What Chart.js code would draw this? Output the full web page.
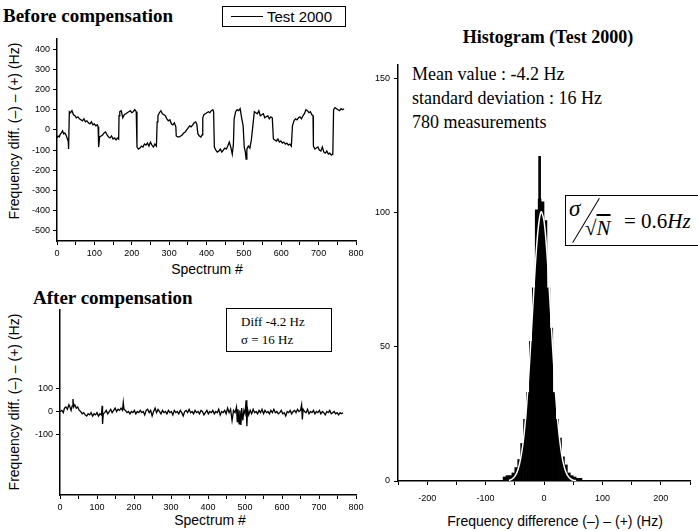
<!DOCTYPE html>
<html>
<head>
<meta charset="utf-8">
<script src="https://cdn.jsdelivr.net/npm/chart.js@4.4.1/dist/chart.umd.min.js"></script>
<style>
  body { margin: 0; width: 698px; height: 531px; background: #fff; position: relative; overflow: hidden;
         font-family: "Liberation Sans", Arial, sans-serif; color: #000; }
  canvas { position: absolute; }
  .abs { position: absolute; white-space: nowrap; line-height: 1; }
  .serif { font-family: "Liberation Serif", "Times New Roman", serif; }
  .ttl { font-weight: bold; font-size: 19px; }
  .ylab { font-size: 14px; transform: translate(-50%, -50%) rotate(-90deg); }
  .xlab { font-size: 14px; transform: translateX(-50%); }
  .box { position: absolute; border: 1px solid #000; background: #fff; }
</style>
</head>
<body>

<div class="abs serif ttl" style="left:3px; top:6px;">Before compensation</div>
<div class="box" style="left:222px; top:6px; width:122px; height:19px;">
  <div class="abs" style="left:8px; top:9px; width:32px; border-top:1.5px solid #000;"></div>
  <div class="abs" style="left:44px; top:2px; font-size:15px;">Test 2000</div>
</div>
<div class="abs ylab" style="left:14px; top:131px;">Frequency diff. (–) – (+) (Hz)</div>
<div class="abs xlab" style="left:207px; top:262px;">Spectrum #</div>
<canvas id="before" width="351" height="233" style="left:17px; top:29px;"></canvas>

<div class="abs serif ttl" style="left:33px; top:288px;">After compensation</div>
<div class="box" style="left:226px; top:308px; width:104px; height:42px;">
  <div class="abs serif" style="left:14px; top:6px; font-size:13px;">Diff -4.2 Hz</div>
  <div class="abs serif" style="left:14px; top:24px; font-size:13px;">σ = 16 Hz</div>
</div>
<div class="abs ylab" style="left:14px; top:402px;">Frequency diff. (–) – (+) (Hz)</div>
<div class="abs xlab" style="left:210px; top:513px;">Spectrum #</div>
<canvas id="after" width="350" height="216" style="left:20px; top:300px;"></canvas>

<div class="abs serif ttl" style="left:548px; top:28px; transform:translateX(-50%); font-size:18px;">Histogram (Test 2000)</div>
<div class="abs serif" style="left:412px; top:65px; font-size:18px;">Mean value : -4.2 Hz</div>
<div class="abs serif" style="left:412px; top:89px; font-size:18px;">standard deviation : 16 Hz</div>
<div class="abs serif" style="left:412px; top:113px; font-size:18px;">780 measurements</div>
<div class="abs xlab" style="left:555px; top:514px;">Frequency difference (–) – (+) (Hz)</div>
<canvas id="hist" width="332" height="451" style="left:366px; top:55px;"></canvas>
<div class="box" style="left:565px; top:195px; width:140px; height:49px;">
  <div class="abs serif" style="left:3px; top:1px; font-size:23px; font-style:italic;">σ</div>
  <div class="abs" style="left:-6px; top:24px; width:52px; border-top:1.3px solid #000; transform:rotate(-59deg);"></div>
  <div class="abs serif" style="left:19px; top:22px; font-size:21px;">√<span style="font-style:italic; text-decoration:overline;">N</span></div>
  <div class="abs serif" style="left:58px; top:15px; font-size:21px;">= 0.6<i>Hz</i></div>
</div>

<script>
// Before compensation (spectrum #, Hz)
const beforeX = [
  0,3,6,9,12,15,18,21,24,27,30,31,
  33,36,40,44,48,52,56,60,64,68,72,76,80,84,88,92,96,100,104,108,110,
  111,112,114,118,122,126,130,134,138,142,146,150,154,158,162,165,
  166,168,172,176,180,184,188,192,196,200,204,208,212,
  214,218,222,226,230,234,238,242,246,250,254,258,262,266,
  268,270,274,278,282,286,290,294,298,302,306,310,314,318,
  319,323,327,331,335,339,343,347,351,355,359,363,367,371,374,377,381,385,388,
  390,393,397,401,405,409,413,417,419,
  421,425,429,433,437,441,445,449,453,457,461,465,469,472,
  474,478,482,486,490,494,498,
  501,504,506,508,512,516,520,524,
  528,532,536,540,544,548,552,556,560,564,568,572,576,
  579,583,587,591,595,599,603,607,611,615,619,623,627,
  630,634,638,642,646,650,654,658,662,666,670,674,678,682,685,
  686,690,694,698,702,706,710,714,718,722,726,730,734,738,
  740,744,748,752,756,760,764,768
];
const beforeY = [
  -40,-30,-35,-20,-15,-5,-20,-15,-25,-40,-55,-95,
  90,85,95,75,70,60,65,55,50,45,55,40,45,35,30,40,25,30,20,25,15,
  -45,-85,-35,-30,-25,-15,-10,-25,-35,-40,-30,-45,-40,-50,-40,-45,
  70,90,95,60,75,80,85,90,95,85,90,100,90,
  -85,-95,-90,-80,-85,-70,-75,-65,-80,-60,-75,-85,-70,-80,
  40,70,85,95,80,75,70,55,45,50,30,25,35,15,
  -30,-35,-35,-30,-25,-15,-10,0,10,20,15,25,35,40,30,-20,-30,-35,-25,
  60,75,80,85,90,85,95,100,90,
  -85,-100,-110,-105,-95,-110,-100,-90,-95,-80,-60,-85,-120,-70,
  55,90,100,95,105,60,20,
  -85,-110,-145,-95,-80,-90,-50,20,
  90,85,80,95,70,75,80,60,65,70,55,65,60,
  -45,-50,-55,-45,-60,-55,-65,-60,-70,-65,-75,-70,-80,
  20,45,55,50,60,65,55,70,80,100,95,85,90,75,70,
  -80,-95,-90,-85,-100,-105,-85,-110,-115,-105,-120,-115,-125,-120,
  100,110,105,100,95,105,100,105
];

// After compensation (spectrum #, Hz)
const afterX = [
  0,5,9,12,16,20,24,27,30,33,35,37,40,44,48,52,56,60,64,68,72,76,80,84,88,92,96,100,104,108,112,114,115,117,
  121,125,129,133,137,141,145,149,153,157,161,165,169,171,173,177,181,185,189,193,197,201,205,209,213,217,
  221,225,229,233,237,241,245,249,253,257,261,265,269,273,277,281,285,289,293,297,301,305,309,313,317,
  321,325,329,333,337,341,345,349,353,357,361,365,369,373,377,381,385,389,393,397,401,405,409,413,417,
  421,425,429,433,437,441,445,449,453,457,461,465,469,473,477,479,481,484,486,489,491,494,497,500,503,505,507,
  510,514,518,522,526,530,534,538,542,546,550,554,558,562,566,570,574,578,582,586,590,594,598,602,606,610,
  614,618,622,626,630,634,638,642,646,650,653,655,657,661,665,669,673,677,681,685,689,693,697,701,705,709,
  713,717,721,725,729,733,737,741,745,749,753,757,761,765
];
const afterY = [
  0,5,-5,15,20,10,30,20,5,25,55,20,30,15,20,5,0,-10,-5,-15,-20,-10,-15,-5,-20,-10,-15,-5,-20,-10,-15,25,-55,-10,
  -5,5,-10,0,10,-5,5,15,0,10,5,15,5,40,10,5,-5,0,-10,0,-5,5,-10,0,-5,5,
  -5,0,-15,5,10,-5,5,-20,0,15,-5,10,0,-10,5,-5,0,-10,5,-5,0,-15,5,-5,0,
  -10,5,-5,-20,0,5,-5,10,-5,0,-10,5,-5,0,-10,5,0,-15,-5,5,-10,0,-5,5,-10,
  0,-5,10,-15,0,-5,5,-10,15,-5,10,-40,5,-5,20,-45,10,-55,5,-60,15,-40,5,-10,50,-65,10,
  -15,5,-10,10,-5,0,-10,5,-5,10,-10,5,-5,0,-10,5,-5,10,-5,0,-10,-5,5,-10,-5,-20,
  0,-5,5,-10,0,5,-5,10,0,5,30,-35,10,0,-5,10,-10,0,-5,5,-10,0,-5,5,-10,0,
  -5,-15,0,-5,5,-10,-5,0,-10,-5,-15,-5,-10,-5
];

// Histogram: 5 Hz bins (centre, count), narrow spike, fitted curve
const histBins = [-67.5,-62.5,-57.5,-52.5,-47.5,-42.5,-37.5,-32.5,-27.5,-22.5,-17.5,-12.5,-7.5,
                  -2.5,2.5,7.5,12.5,17.5,22.5,27.5,32.5,37.5,42.5,47.5,52.5,57.5,62.5];
const histCounts = [1.5,2,2,3,5,8,14,23,33,52,72,101,105,104,97,72,57,33,23,16,9,6,3,2,1.5,1,1];
const spikeX = [-7.5];
const spikeY = [121];
const fitX = [-60,-55,-50,-45,-40,-35,-30,-25,-20,-15,-10,-5,0,5,10,15,20,25,30,35,40,45,50,55];
const fitY = [0.2,0.7,1.7,3.9,8.3,15.7,27.4,43.2,61.7,80,94,100.3,97,85.1,67.8,48.9,32,19,10.2,5,2.2,0.9,0.3,0.1];

// Ticks
const spectrumTicks = [0,50,100,150,200,250,300,350,400,450,500,550,600,650,700,750,800];
const spectrumLabels = [0,100,200,300,400,500,600,700,800];
const beforeYTicks = [-500,-400,-300,-200,-100,0,100,200,300,400];
const afterYTicks = [-100,0,100];
const histXTicks = [-250,-200,-150,-100,-50,0,50,100,150,200,250];
const histXLabels = [-200,-100,0,100,200];
const histYTicks = [0,50,100,150];

const pts = (xs, ys) => xs.map((x, i) => ({ x: x, y: ys[i] }));

function axis(min, max, ticks, labels, size, pad) {
    return {
        type: 'linear', min: min, max: max, offset: false,
        afterBuildTicks: s => { s.ticks = ticks.map(v => ({ value: v })); },
        afterFit: s => { if (s.isHorizontal()) s.height = size; else s.width = size; },
        ticks: {
            autoSkip: false, maxRotation: 0, color: '#000', padding: pad,
            font: { family: 'Liberation Sans', size: 9 },
            callback: v => labels.includes(v) ? String(v) : ''
        },
        grid: { offset: false, drawOnChartArea: false, drawTicks: true, tickLength: 4, color: '#000', lineWidth: 1 },
        border: { display: true, color: '#000', width: 1.5 }
    };
}

const common = {
    responsive: false,
    animation: false,
    events: [],
    plugins: { legend: { display: false }, tooltip: { enabled: false } }
};

function traceChart(id, xs, ys, yMin, yMax, yTicks, padRight) {
    return new Chart(document.getElementById(id), {
        type: 'line',
        data: { datasets: [{
            data: pts(xs, ys), borderColor: '#000', borderWidth: 1.3,
            pointRadius: 0, tension: 0
        }] },
        options: Object.assign({}, common, {
            layout: { padding: { top: 10, right: padRight, bottom: 0, left: 0 } },
            scales: {
                x: axis(0, 800, spectrumTicks, spectrumLabels, 21, 3),
                y: axis(yMin, yMax, yTicks, yTicks, 40, 3)
            }
        })
    });
}

traceChart('before', beforeX, beforeY, -550, 450, beforeYTicks, 12);
traceChart('after', afterX, afterY, -370, 450, afterYTicks, 14);

new Chart(document.getElementById('hist'), {
    type: 'bar',
    data: { datasets: [
        { type: 'line', data: pts(fitX, fitY), borderColor: '#fff', borderWidth: 1.5, pointRadius: 0, tension: 0.3, order: 0 },
        { type: 'bar', data: pts(histBins, histCounts), backgroundColor: '#000', borderWidth: 0,
          barPercentage: 1, categoryPercentage: 1, grouped: false, order: 1 },
        { type: 'bar', data: pts(spikeX, spikeY), backgroundColor: '#000', borderWidth: 0,
          barThickness: 2, grouped: false, order: 2 }
    ] },
    options: Object.assign({}, common, {
        layout: { padding: { top: 10, right: 1, bottom: 0, left: 0 } },
        scales: {
            x: axis(-250, 250, histXTicks, histXLabels, 25, 8),
            y: axis(0, 155, histYTicks, histYTicks, 32, 4)
        }
    })
});
</script>
</body>
</html>
